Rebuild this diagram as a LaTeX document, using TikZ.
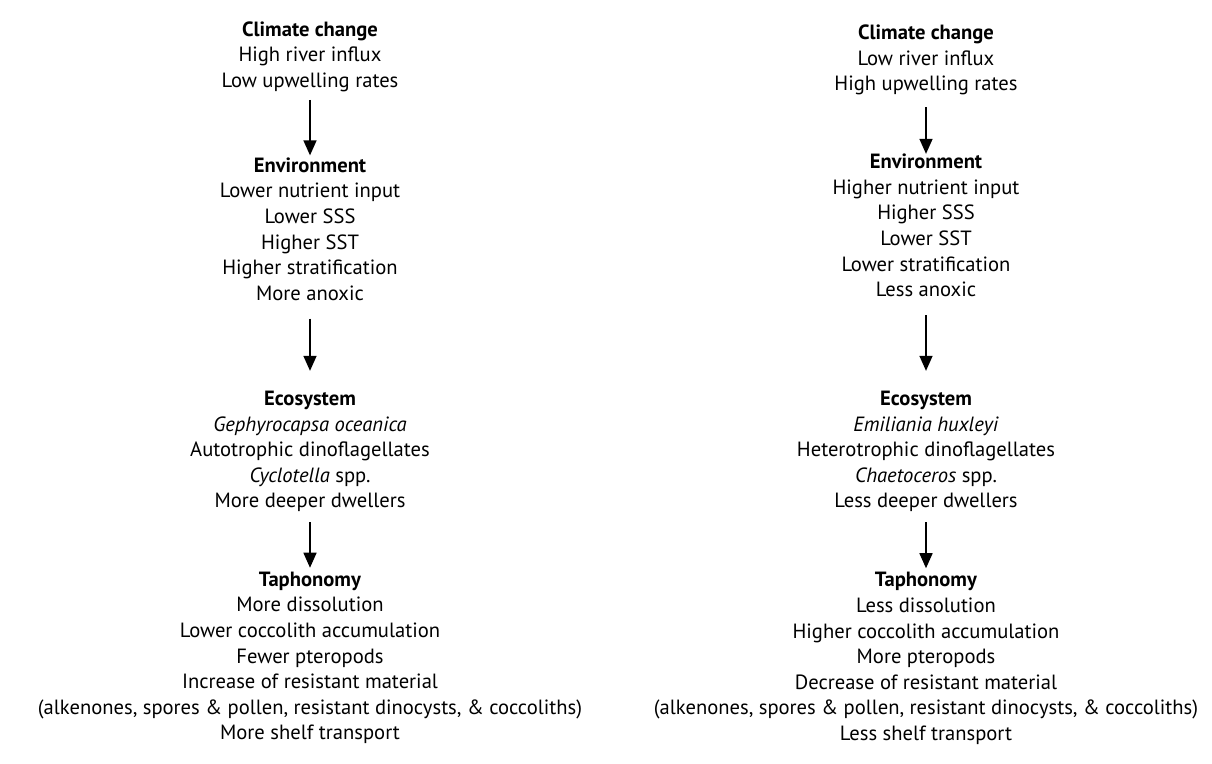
\documentclass[tikz,border=0pt]{standalone}
\usepackage{fontspec}
\setmainfont{PT Sans}
\usetikzlibrary{arrows.meta}

\begin{document}
\begin{tikzpicture}[x=1pt,y=-1pt,>={Triangle[width=13pt,length=15pt]},
  block/.style={align=center,inner sep=0pt,font=\fontsize{20.6}{25.6}\selectfont},
  link/.style={->,line width=1.5pt}]
\useasboundingbox[fill=white] (0,0) rectangle (1212,763);
% left column
\node[block] (climL) at (310,56.5) {\textbf{Climate change}\\High river influx\\Low upwelling rates};
\node[block] (envL) at (310,229) {\textbf{Environment}\\Lower nutrient input\\Lower SSS\\Higher SST\\Higher stratification\\More anoxic};
\node[block] (ecoL) at (310,451.5) {\textbf{Ecosystem}\\\textit{Gephyrocapsa oceanica}\\Autotrophic dinoflagellates\\\textit{Cyclotella} spp.\\More deeper dwellers};
\node[block] (tapL) at (310,658) {\textbf{Taphonomy}\\More dissolution\\Lower coccolith accumulation\\Fewer pteropods\\Increase of resistant material\\(alkenones, spores \& pollen, resistant dinocysts, \& coccoliths)\\More shelf transport};
% right column
\node[block] (climR) at (926,60) {\textbf{Climate change}\\Low river influx\\High upwelling rates};
\node[block] (envR) at (926,225.5) {\textbf{Environment}\\Higher nutrient input\\Higher SSS\\Lower SST\\Lower stratification\\Less anoxic};
\node[block] (ecoR) at (926,451.5) {\textbf{Ecosystem}\\\textit{Emiliania huxleyi}\\Heterotrophic dinoflagellates\\\textit{Chaetoceros} spp.\\Less deeper dwellers};
\node[block] (tapR) at (926,658.5) {\textbf{Taphonomy}\\Less dissolution\\Higher coccolith accumulation\\More pteropods\\Decrease of resistant material\\(alkenones, spores \& pollen, resistant dinocysts, \& coccoliths)\\Less shelf transport};
% arrows
\draw[link,shorten <=8pt,shorten >=2pt] (climL) -- (envL);
\draw[link,shorten <=18pt,shorten >=20pt] (envL) -- (ecoL);
\draw[link,shorten <=10pt,shorten >=4pt] (ecoL) -- (tapL);
\draw[link,shorten <=12pt,shorten >=0pt] (climR) -- (envR);
\draw[link,shorten <=18pt,shorten >=20pt] (envR) -- (ecoR);
\draw[link,shorten <=10pt,shorten >=4pt] (ecoR) -- (tapR);
\end{tikzpicture}
\end{document}
